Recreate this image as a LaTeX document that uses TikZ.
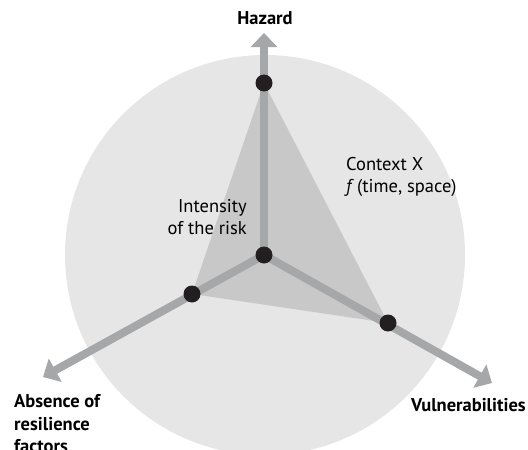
\documentclass[tikz,border=0pt]{standalone}
\usepackage{fontspec}
\setmainfont{PT Sans}
\usetikzlibrary{arrows.meta}
\definecolor{circlegray}{HTML}{E6E6E7}
\definecolor{trigray}{HTML}{C8C8C8}
\definecolor{arrowgray}{HTML}{A6A7A9}
\definecolor{dotblack}{HTML}{231F20}
\tikzset{
  axis/.style={draw=arrowgray, line width=8pt, -{Triangle[length=14pt,width=26pt]}},
  dot/.style={circle, fill=dotblack, inner sep=0pt, minimum size=17pt},
  lbl/.style={font=\fontsize{18.5}{22.5}\selectfont, inner sep=0pt},
  blbl/.style={font=\fontsize{18.5}{22.5}\selectfont\bfseries, inner sep=0pt}
}
\begin{document}
\begin{tikzpicture}[x=1pt,y=-1pt]
\useasboundingbox (0,0) rectangle (528,450);
\fill[circlegray] (265,255) circle (200);
\coordinate (c) at (264,255);
\coordinate (hp) at (264,83);
\coordinate (ap) at (192,294);
\coordinate (vp) at (388,323);
\coordinate (ht) at (264,33);
\coordinate (at) at (43,377);
\coordinate (vt) at (492,383);
\fill[trigray] (hp) -- (ap) -- (vp) -- cycle;
\draw[axis] (c) -- (ht);
\draw[axis] (c) -- (at);
\draw[axis] (c) -- (vt);
\node[dot] (hd) at (hp) {};
\node[dot] (ad) at (ap) {};
\node[dot] (vd) at (vp) {};
\node[dot] (cd) at (c) {};
\node[blbl] (hz) at (265,18) {Hazard};
\node[lbl, anchor=west, align=left] (ctx) at (346,177) {Context X\\\textit{f}\,(time, space)};
\node[lbl, anchor=east, align=right] (int) at (247,217) {Intensity\\of the risk};
\node[blbl, anchor=west, align=left] (abs) at (14,424) {Absence of\\resilience\\factors};
\node[blbl, anchor=west] (vul) at (411,405) {Vulnerabilities};
\end{tikzpicture}
\end{document}
